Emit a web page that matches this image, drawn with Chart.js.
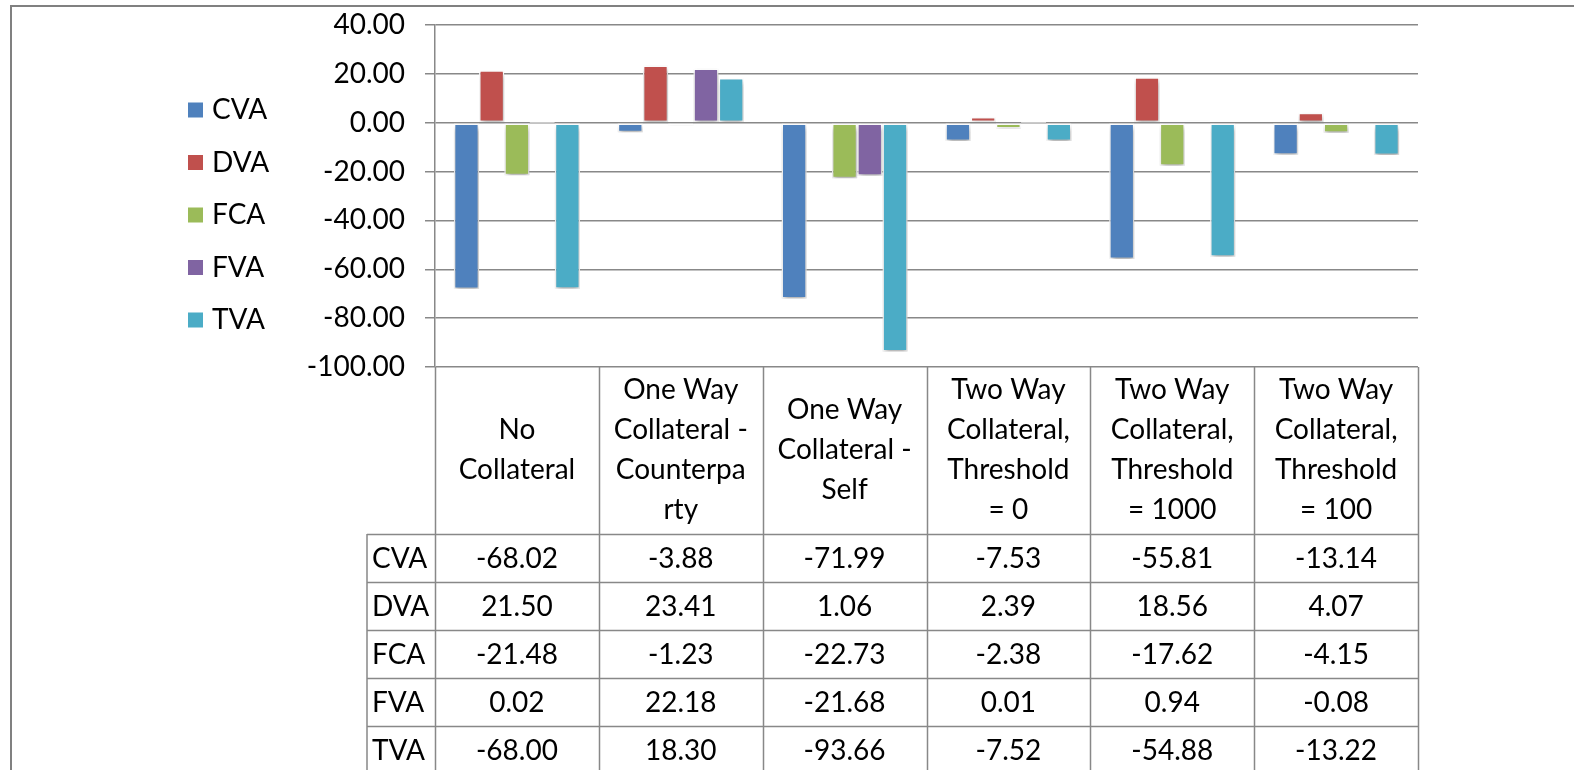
<!DOCTYPE html>
<html>
<head>
<meta charset="utf-8">
<script src="https://cdn.jsdelivr.net/npm/chart.js@4.4.1/dist/chart.umd.min.js"></script>
<style>
  html, body { margin: 0; padding: 0; background: #fff; }
  #wrap { position: relative; width: 1574px; height: 770px; overflow: hidden; }
</style>
</head>
<body>
<div id="wrap"><canvas id="chart" width="1574" height="770"></canvas></div>
<script>
const categories = [
  ["No", "Collateral"],
  ["One Way", "Collateral -", "Counterpa", "rty"],
  ["One Way", "Collateral -", "Self"],
  ["Two Way", "Collateral,", "Threshold", "= 0"],
  ["Two Way", "Collateral,", "Threshold", "= 1000"],
  ["Two Way", "Collateral,", "Threshold", "= 100"]
]
const seriesNames = ["CVA", "DVA", "FCA", "FVA", "TVA"]
const cva = [-68.02, -3.88, -71.99, -7.53, -55.81, -13.14]
const dva = [21.50, 23.41, 1.06, 2.39, 18.56, 4.07]
const fca = [-21.48, -1.23, -22.73, -2.38, -17.62, -4.15]
const fva = [0.02, 22.18, -21.68, 0.01, 0.94, -0.08]
const tva = [-68.00, 18.30, -93.66, -7.52, -54.88, -13.22]
const yTicks = [40, 20, 0, -20, -40, -60, -80, -100]

const colors   = ["#4F81BD", "#C0504D", "#9BBB59", "#8064A2", "#4BACC6"]
const values   = [cva, dva, fca, fva, tva]
const font     = "Lato, 'Open Sans', sans-serif"
const fontSize = 28
const lineGray = "#888888"

const rowTop    = 534
const rowHeight = 48
const headerMid = 450
const headerLh  = 40

// soft drop shadow under the bars, like the Excel look
const barShadow = {
  id: "barShadow",
  beforeDatasetsDraw(chart) {
    const ctx = chart.ctx
    ctx.save()
    ctx.shadowColor = "rgba(0,0,0,0.35)"
    ctx.shadowBlur = 5
    ctx.shadowOffsetX = 1
    ctx.shadowOffsetY = 3
  },
  afterDatasetsDraw(chart) {
    chart.ctx.restore()
  }
}

// legend, outer frame and the data table under the plot
const tableAndLegend = {
  id: "tableAndLegend",
  afterDraw(chart) {
    const ctx = chart.ctx
    const x = chart.scales.x
    const area = chart.chartArea
    const colW = x.width / categories.length
    const labelLeft = 367

    ctx.save()

    // outer frame
    ctx.strokeStyle = "#808080"
    ctx.lineWidth = 2
    ctx.strokeRect(11, 6, 1700, 900)

    // table lines
    ctx.strokeStyle = lineGray
    ctx.lineWidth = 1.5
    ctx.beginPath()
    for (let i = 0; i <= categories.length; i++) {
      const cx = Math.round(area.left + i * colW) + 0.5
      ctx.moveTo(cx, area.bottom)
      ctx.lineTo(cx, 770)
    }
    ctx.moveTo(labelLeft, rowTop)
    ctx.lineTo(labelLeft, 770)
    for (let r = 0; r < seriesNames.length; r++) {
      const y = rowTop + r * rowHeight + 0.5
      ctx.moveTo(labelLeft, y)
      ctx.lineTo(area.right, y)
    }
    ctx.stroke()

    ctx.fillStyle = "#000"
    ctx.font = `${fontSize}px ${font}`
    ctx.textBaseline = "middle"

    // header: category labels
    ctx.textAlign = "center"
    categories.forEach((lines, i) => {
      const cx = x.getPixelForValue(i)
      const top = Math.max(area.bottom, headerMid - lines.length * headerLh / 2)
      lines.forEach((t, k) => ctx.fillText(t, cx, top + headerLh / 2 + k * headerLh))
    })

    // data rows
    seriesNames.forEach((name, r) => {
      const cy = rowTop + r * rowHeight + rowHeight / 2 + 1
      ctx.textAlign = "left"
      ctx.fillText(name, labelLeft + 5, cy)
      ctx.textAlign = "center"
      values[r].forEach((v, i) => ctx.fillText(v.toFixed(2), x.getPixelForValue(i), cy))
    })

    // legend
    seriesNames.forEach((name, r) => {
      const cy = 110 + r * 52.5
      ctx.fillStyle = colors[r]
      ctx.fillRect(188, cy - 7.5, 15, 15)
      ctx.fillStyle = "#000"
      ctx.textAlign = "left"
      ctx.fillText(name, 212, cy)
    })

    ctx.restore()
  }
}

new Chart(document.getElementById("chart"), {
  type: "bar",
  data: {
    labels: categories.map(c => c.join(" ")),
    datasets: seriesNames.map((name, i) => ({
      label: name,
      data: values[i],
      backgroundColor: colors[i],
      borderColor: "#FFFFFF",
      borderWidth: 1.5,
      borderSkipped: false,
      categoryPercentage: 0.77,
      barPercentage: 1.0
    }))
  },
  options: {
    responsive: false,
    animation: false,
    layout: { padding: { left: 0, top: 25, right: 156, bottom: 403 } },
    plugins: {
      legend:  { display: false },
      tooltip: { enabled: false }
    },
    scales: {
      x: { display: false },
      y: {
        min: -100,
        max: 40,
        afterBuildTicks: scale => { scale.ticks = yTicks.map(v => ({ value: v })) },
        afterFit: scale => {
          scale.width = 435
          scale.paddingTop = 0
          scale.paddingBottom = 0
        },
        grid:   { color: lineGray, lineWidth: 1.5, tickLength: 10 },
        border: { color: lineGray, width: 1.5 },
        ticks:  {
          color: "#000",
          padding: 20,
          font: { family: font, size: fontSize },
          callback: v => v.toFixed(2)
        }
      }
    }
  },
  plugins: [barShadow, tableAndLegend]
})
</script>
</body>
</html>
